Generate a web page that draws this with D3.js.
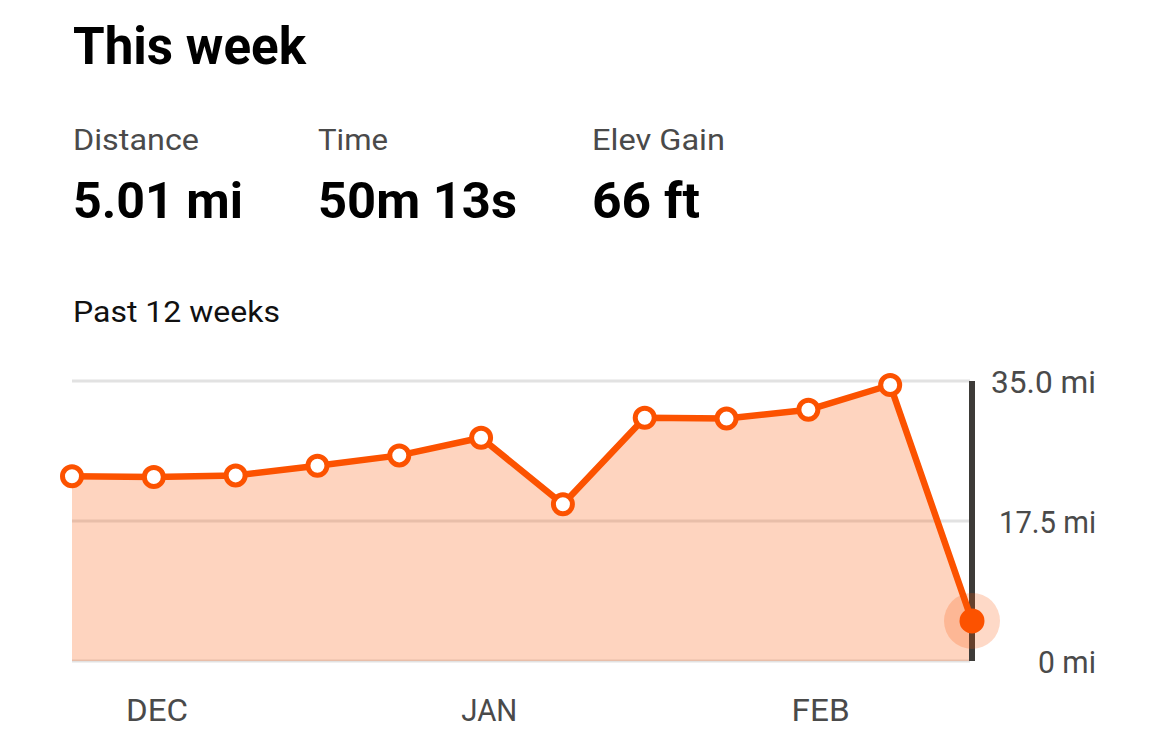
<!DOCTYPE html>
<html>
<head>
<meta charset="utf-8">
<script src="https://cdn.jsdelivr.net/npm/d3@7"></script>
<style>
  html, body { margin: 0; padding: 0; background: #fff; }
  svg { display: block; }
  text { font-family: Roboto, "Noto Sans", sans-serif; }
</style>
</head>
<body>
<svg id="chart" width="1170" height="754"></svg>
<script>
// ---- data ----
const weeks = ["W1","W2","W3","W4","W5","W6","W7","W8","W9","W10","W11","W12"];
const distances = [23.1, 23.0, 23.2, 24.4, 25.7, 27.9, 19.6, 30.4, 30.3, 31.4, 34.5, 5.01];
const yTicks = [0, 17.5, 35];
const yTickLabels = ["0 mi", "17.5 mi", "35.0 mi"];
const monthLabels = ["DEC", "JAN", "FEB"];
const monthPositions = [1.04, 5.1, 9.15]; // fractional week index
const statLabels = ["Distance", "Time", "Elev Gain"];
const statValues = ["5.01 mi", "50m 13s", "66 ft"];
const title = "This week";
const subtitle = "Past 12 weeks";

// ---- layout ----
const svg = d3.select("#chart");
const ORANGE = "#fc5200";
const plotLeft = 72, plotRight = 972, plotTop = 381, plotBottom = 661;

const x = d3.scaleLinear().domain([0, weeks.length - 1]).range([plotLeft, plotRight]);
const y = d3.scaleLinear().domain([0, 35]).range([plotBottom, plotTop]);

// header
svg.append("text").attr("x", 73).attr("y", 64)
  .attr("font-size", 51).attr("font-weight", 700).attr("fill", "#000")
  .attr("textLength", 233).attr("lengthAdjust", "spacingAndGlyphs")
  .text(title);

const statX = [73, 318, 592];
const labelW = [126, 70, 133];
const valueW = [170, 199, 108];
statLabels.forEach((s, i) => {
  svg.append("text").attr("x", statX[i]).attr("y", 150)
    .attr("font-size", 29).attr("fill", "#4a4a4a")
    .attr("textLength", labelW[i]).attr("lengthAdjust", "spacingAndGlyphs")
    .text(s);
  svg.append("text").attr("x", statX[i]).attr("y", 218)
    .attr("font-size", 50).attr("font-weight", 700).attr("fill", "#000")
    .attr("textLength", valueW[i]).attr("lengthAdjust", "spacingAndGlyphs")
    .text(statValues[i]);
});

svg.append("text").attr("x", 73).attr("y", 322)
  .attr("font-size", 29).attr("fill", "#111")
  .attr("textLength", 207).attr("lengthAdjust", "spacingAndGlyphs")
  .text(subtitle);

// gridlines
svg.append("g").selectAll("line").data(yTicks).join("line")
  .attr("x1", plotLeft).attr("x2", plotRight - 2)
  .attr("y1", d => y(d)).attr("y2", d => y(d))
  .attr("stroke", "#e2e2e2").attr("stroke-width", 3);

// area
const area = d3.area().x((d, i) => x(i)).y0(y(0)).y1(d => y(d));
svg.append("path").datum(distances).attr("d", area)
  .attr("fill", ORANGE).attr("fill-opacity", 0.25);

// vertical dark line at current week
svg.append("line")
  .attr("x1", x(weeks.length - 1)).attr("x2", x(weeks.length - 1))
  .attr("y1", y(35)).attr("y2", y(0))
  .attr("stroke", "#3d3b38").attr("stroke-width", 6);

// line
const line = d3.line().x((d, i) => x(i)).y(d => y(d));
svg.append("path").datum(distances).attr("d", line)
  .attr("fill", "none").attr("stroke", ORANGE).attr("stroke-width", 6.5)
  .attr("stroke-linejoin", "round");

// points
const past = distances.slice(0, -1);
svg.append("g").selectAll("circle").data(past).join("circle")
  .attr("cx", (d, i) => x(i)).attr("cy", d => y(d))
  .attr("r", 9.5).attr("fill", "#fff").attr("stroke", ORANGE).attr("stroke-width", 5);

const lastI = distances.length - 1;
svg.append("circle").attr("cx", x(lastI)).attr("cy", y(distances[lastI]))
  .attr("r", 28).attr("fill", ORANGE).attr("fill-opacity", 0.22);
svg.append("circle").attr("cx", x(lastI)).attr("cy", y(distances[lastI]))
  .attr("r", 12.5).attr("fill", ORANGE);

// y tick labels (right)
const tickW = [58, 97, 105];
svg.append("g").selectAll("text").data(yTicks).join("text")
  .attr("x", 1096).attr("y", d => y(d) + 12)
  .attr("text-anchor", "end")
  .attr("font-size", 31).attr("fill", "#4a4a4a")
  .attr("textLength", (d, i) => tickW[i]).attr("lengthAdjust", "spacingAndGlyphs")
  .text((d, i) => yTickLabels[i]);

// x month labels
const monthW = [62, 56, 58];
svg.append("g").selectAll("text").data(monthLabels).join("text")
  .attr("x", (d, i) => x(monthPositions[i])).attr("y", 721)
  .attr("text-anchor", "middle")
  .attr("font-size", 32).attr("fill", "#4a4a4a")
  .attr("textLength", (d, i) => monthW[i]).attr("lengthAdjust", "spacingAndGlyphs")
  .text(d => d);
</script>
</body>
</html>
